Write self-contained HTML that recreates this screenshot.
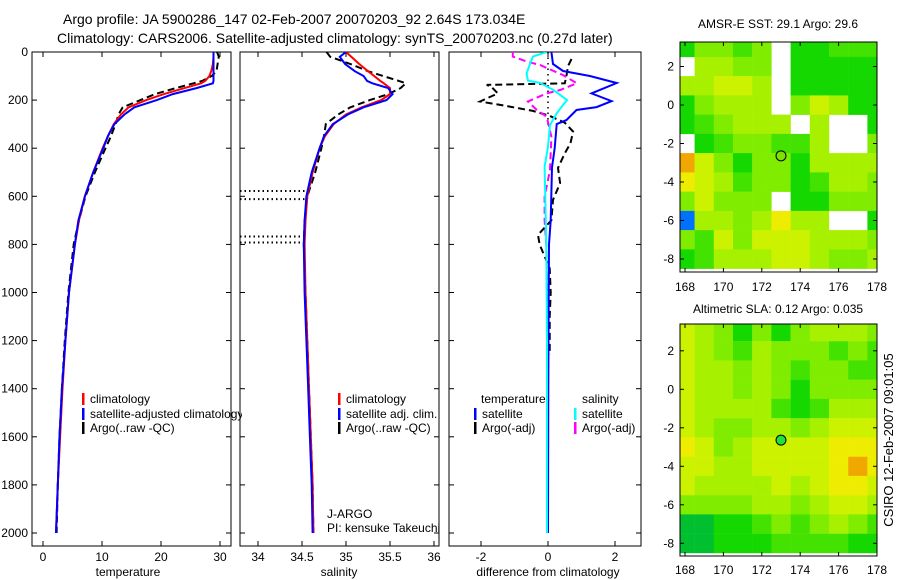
<!DOCTYPE html>
<html><head><meta charset="utf-8">
<style>
body{margin:0;background:#fff;}
svg{display:block;font-family:"Liberation Sans",sans-serif;}
</style></head>
<body>
<svg id="chart" width="900" height="580" viewBox="0 0 900 580">
<rect x="0" y="0" width="900" height="580" fill="#fff"/>
<text x="63" y="24" font-size="14">Argo profile: JA 5900286_147 02-Feb-2007 20070203_92 2.64S 173.034E</text>
<text x="57" y="43" font-size="14">Climatology: CARS2006. Satellite-adjusted climatology: synTS_20070203.nc (0.27d later)</text>
<defs>
<clipPath id="c1"><rect x="32" y="52" width="199" height="494"/></clipPath>
<clipPath id="c2"><rect x="240" y="52" width="199" height="494"/></clipPath>
<clipPath id="c3"><rect x="449" y="52" width="192" height="494"/></clipPath>
<clipPath id="cm1"><rect x="680" y="42" width="197" height="230"/></clipPath>
<clipPath id="cm2"><rect x="680" y="324" width="197" height="232"/></clipPath>
<clipPath id="cleg"><rect x="32" y="380" width="210" height="60"/></clipPath>
</defs>
<g id="g1"></g>
<g id="g2"></g>
<g id="g3"></g>
<g id="gm1"></g>
<g id="gm2"></g>
<text transform="translate(893,440) rotate(-90)" text-anchor="middle" font-size="13">CSIRO 12-Feb-2007 09:01:05</text>
</svg>
<script>
// ---- data ----
const depths = [0,20,50,80,100,120,130,150,175,200,230,260,300,350,400,500,600,700,800,1000,1200,1400,1600,1800,2000];
const tClim = [28.9,28.9,28.8,28.5,28.2,27.5,26.8,24,20.5,17.5,14.5,13.2,12,11,10.1,8.5,7.1,6.1,5.4,4.4,3.8,3.3,2.9,2.5,2.2];
const tSat = [28.9,28.9,28.9,28.9,28.9,28.9,28.8,26,22,19.3,15.5,13.8,12.1,11,10.2,8.5,7.1,6,5.4,4.4,3.8,3.2,2.8,2.5,2.2];
const tArgo = [29.5,29.8,29.6,29.4,28.6,27,25.5,22.5,19,16.5,13.5,12.8,12.3,11.5,10.6,8.8,7.2,6.1,5.2,4.3,3.7,3.2,2.8,2.5,2.3];
const sClim = [35.0,35.06,35.15,35.25,35.32,35.39,35.43,35.5,35.5,35.4,35.18,35.0,34.86,34.76,34.7,34.62,34.56,34.54,34.53,34.54,34.56,34.58,34.6,34.62,34.63];
const sSat = [35.0,34.93,34.99,35.1,35.2,35.24,35.3,35.48,35.53,35.46,35.2,35.02,34.85,34.75,34.7,34.61,34.55,34.53,34.52,34.53,34.55,34.57,34.59,34.61,34.62];
const sArgo = [34.78,34.82,35.05,35.25,35.42,35.6,35.68,35.62,35.48,35.27,35.05,34.91,34.77,34.75,34.72,34.65,34.56,34.53,34.52,34.54,34.56,34.58,34.6,34.62,34.63];
const gapDepths = [578,612,767,792];
const dTSatDepth = [0,50,79,100,129,172,204,229,241,283,300,399,480,700,800,1000,1400,2000];
const dTSat = [0.1,0.15,0.45,1.25,2.05,1.3,1.9,1.45,0.85,0.55,0.26,0.2,0.12,0.08,0.03,0.02,0.01,0];
const dTArgoDepth = [29,58,100,130,137,144,172,206,222,245,266,294,331,380,421,482,545,615,700,760,800,900,1000,1100,1260];
const dTArgo = [0.7,0.6,0.55,0.5,-1.83,-1.7,-1.5,-2.03,-1.34,-0.45,0.06,0.5,0.75,0.67,0.5,0.3,0.36,0.15,0.1,-0.3,-0.25,0.05,0.08,0.05,0.05];
const dSArgoDepth = [0,19,40,54,75,96,130,158,172,206,241,269,352,491,600,700,800,1000,1400,2000];
const dSArgo = [-1.05,-1.05,-0.63,-0.24,0.1,0.45,0.86,0.36,-0.04,-0.6,-0.33,-0.04,0.1,0.06,-0.1,-0.1,-0.05,-0.03,-0.02,-0.02];
const dSSatDepth = [0,19,54,89,119,128,158,200,220,255,304,394,477,800,1200,1600,2000];
const dSSat = [-0.04,-0.45,-0.55,-0.64,-0.6,-0.24,0.16,0.57,0.45,0.26,0.06,0,-0.1,-0.05,-0.03,-0.03,-0.03];
const depthTicks = [0,200,400,600,800,1000,1200,1400,1600,1800,2000];
const tTicks = [0,10,20,30];
const sTicks = [34,34.5,35,35.5,36];
const dTicks = [-2,0,2];
const mapLons = [168,169,170,171,172,173,174,175,176,177,178];
const mapLats = [3,2,1,0,-1,-2,-3,-4,-5,-6,-7,-8];
const lonTicks = [168,170,172,174,176,178];
const latTicks = [2,0,-2,-4,-6,-8];
const sstGrid = [
[3,5,5,4,5,null,3,3,4,4,4],
[null,6,6,5,5,null,3,3,3,3,3],
[6,6,7,7,6,null,3,3,3,3,3],
[3,5,6,6,6,null,5,7,6,3,3],
[3,4,5,6,6,6,null,6,null,null,3],
[null,3,4,5,5,4,4,6,null,null,5],
[9,7,5,3,5,5,3,6,6,6,6],
[8,7,6,4,5,5,3,4,6,6,5],
[5,7,5,5,5,null,3,3,5,5,5],
[-2,6,6,5,6,8,6,6,null,null,3],
[5,4,7,5,7,7,7,6,6,6,5],
[3,4,6,6,6,7,7,6,5,5,6]];
const slaGrid = [
[7,6,5,3,5,3,5,6,6,6,5],
[7,6,5,4,6,5,5,5,4,5,4],
[7,6,6,5,6,5,4,5,5,4,4],
[7,6,6,5,6,5,3,5,5,5,5],
[7,6,6,6,6,4,3,4,6,6,6],
[7,6,5,5,6,6,5,6,7,7,7],
[8,7,5,6,7,7,7,7,8,8,8],
[7,7,6,6,7,7,7,7,8,9,8],
[7,6,6,6,6,7,6,7,8,8,7],
[5,5,5,5,6,6,5,6,7,7,6],
[2,2,3,3,4,5,4,5,6,5,4],
[2,2,3,3,3,4,4,4,4,3,3]];
const argoPos = [173.0,-2.64];

// ---- helpers ----
const NS='http://www.w3.org/2000/svg';
function mk(parent,tag,attrs,txt){const e=document.createElementNS(NS,tag);for(const k in attrs)e.setAttribute(k,attrs[k]);if(txt!==undefined)e.textContent=txt;parent.appendChild(e);return e;}
const yD = d => 52 + d*0.2405;
const xT = v => 43 + v*5.9;
const xS = v => 258 + (v-34)*88;
const xDf = v => 548 + v*33.5;

function line(g,xs,ds,xf,color,dash,clip,name){
  const pts = xs.map((v,i)=>xf(v).toFixed(1)+','+yD(ds[i]).toFixed(1)).join(' ');
  const e = mk(g,'polyline',{points:pts,fill:'none',stroke:color,'stroke-width':2,'clip-path':'url(#'+clip+')'});
  if(dash) e.setAttribute('stroke-dasharray',dash);
  
  
}
function frame(g,x0,x1,ticks,xf,label,labelX,showY){
  const f=mk(g,'rect',{x:x0,y:52,width:x1-x0,height:494,fill:'none',stroke:'#000','stroke-width':1});
  
  
  ticks.forEach(t=>{const x=xf(t);
    mk(g,'line',{x1:x,y1:52,x2:x,y2:57,stroke:'#000'});
    mk(g,'line',{x1:x,y1:546,x2:x,y2:541,stroke:'#000'});
    const tl=mk(g,'text',{x:x,y:561,'font-size':12,'text-anchor':'middle'},String(t));
    
    
  });
  depthTicks.forEach(d=>{const y=yD(d);
    mk(g,'line',{x1:x0,y1:y,x2:x0+5,y2:y,stroke:'#000'});
    mk(g,'line',{x1:x1,y1:y,x2:x1-5,y2:y,stroke:'#000'});
    if(showY){const tl=mk(g,'text',{x:28,y:y+4,'font-size':12,'text-anchor':'end'},String(d));
      
      }
  });
  const al=mk(g,'text',{x:labelX,y:576,'font-size':12,'text-anchor':'middle'},label);
  
  
}
function legend(g,x,y,color,label,clip){
  const b=mk(g,'rect',{x:x,y:y-10,width:2.5,height:12,fill:color});
  
  
  const t=mk(g,'text',{x:x+8,y:y,'font-size':12},label);
  if(clip) t.setAttribute('clip-path','url(#'+clip+')');
  
  
}

// ---- panel 1 ----
const g1=document.getElementById('g1');
frame(g1,32,231,tTicks,xT,'temperature',128,true);
line(g1,tArgo,depths,xT,'#000','7,4','c1','argo-temperature-line');
line(g1,tClim,depths,xT,'#f00',null,'c1','climatology-temperature-line');
line(g1,tSat,depths,xT,'#00f',null,'c1','satellite-temperature-line');
legend(g1,82,403,'#f00','climatology');
legend(g1,82,418,'#00f','satellite-adjusted climatology','cleg');
legend(g1,82,432,'#000','Argo(..raw -QC)');

// ---- panel 2 ----
const g2=document.getElementById('g2');
frame(g2,240,439,sTicks,xS,'salinity',339,false);
gapDepths.forEach(d=>{
  const e=mk(g2,'line',{x1:240,y1:yD(d),x2:305,y2:yD(d),stroke:'#000','stroke-width':2,'stroke-dasharray':'1.5,3'});
  
  
});
line(g2,sArgo,depths,xS,'#000','7,4','c2','argo-salinity-line');
line(g2,sClim,depths,xS,'#f00',null,'c2','climatology-salinity-line');
line(g2,sSat,depths,xS,'#00f',null,'c2','satellite-salinity-line');
legend(g2,338,403,'#f00','climatology');
legend(g2,338,418,'#00f','satellite adj. clim.');
legend(g2,338,432,'#000','Argo(..raw -QC)');
const j1=mk(g2,'text',{x:327,y:518,'font-size':12},'J-ARGO');


const j2=mk(g2,'text',{x:327,y:532,'font-size':12},'PI: kensuke Takeuchi');



// ---- panel 3 ----
const g3=document.getElementById('g3');
frame(g3,449,641,dTicks,xDf,'difference from climatology',548,false);
const zl=mk(g3,'line',{x1:xDf(0),y1:52,x2:xDf(0),y2:yD(320),stroke:'#000','stroke-width':1.5,'stroke-dasharray':'1.5,4'});


line(g3,dTArgo,dTArgoDepth,xDf,'#000','7,4','c3','temperature-argo-diff-line');
line(g3,dSArgo,dSArgoDepth,xDf,'#f0f','7,4','c3','salinity-argo-diff-line');
line(g3,dTSat,dTSatDepth,xDf,'#00f',null,'c3','temperature-satellite-diff-line');
line(g3,dSSat,dSSatDepth,xDf,'#0ff',null,'c3','salinity-satellite-diff-line');
const lt=mk(g3,'text',{x:481,y:403,'font-size':12},'temperature');


const ls=mk(g3,'text',{x:582,y:403,'font-size':12},'salinity');


legend(g3,474,418,'#00f','satellite');
legend(g3,474,432,'#000','Argo(-adj)');
legend(g3,574,418,'#0ff','satellite');
legend(g3,574,432,'#f0f','Argo(-adj)');

// ---- maps ----
const palette={'-2':'#0070ff','-1':'#00d8ff','2':'#00c030','3':'#14d800','4':'#44e200','5':'#80ec00','6':'#a6f000','7':'#ccf200','8':'#eeec00','9':'#f0a800'};
function drawMap(gid,grid,clip,latY0,titleTxt,titleY,xLabY){
  const g=document.getElementById(gid);
  const lonX=l=>685+(l-168)*19.2;
  const latY=l=>latY0-l*19.25;
  grid.forEach((row,r)=>row.forEach((v,c)=>{
    if(v===null) return;
    const x0=lonX(mapLons[c]-0.5), y0=latY(mapLats[r]+0.5);
    const e=mk(g,'rect',{x:x0.toFixed(1),y:y0.toFixed(1),width:19.4,height:19.5,fill:palette[String(v)],'clip-path':'url(#'+clip+')'});
    
    
  }));
  const top = clip==='cm1'?42:324, bot = clip==='cm1'?272:556;
  mk(g,'rect',{x:680,y:top,width:197,height:bot-top,fill:'none',stroke:'#000'});
  lonTicks.forEach(l=>{const x=lonX(l);
    mk(g,'line',{x1:x,y1:top,x2:x,y2:top+4,stroke:'#000'});
    mk(g,'line',{x1:x,y1:bot,x2:x,y2:bot-4,stroke:'#000'});
    const t=mk(g,'text',{x:x,y:xLabY,'font-size':12,'text-anchor':'middle'},String(l));
    
    });
  latTicks.forEach(l=>{const y=latY(l);
    mk(g,'line',{x1:680,y1:y,x2:684,y2:y,stroke:'#000'});
    mk(g,'line',{x1:877,y1:y,x2:873,y2:y,stroke:'#000'});
    const t=mk(g,'text',{x:674,y:y+4,'font-size':12,'text-anchor':'end'},String(l));
    
    });
  const c=mk(g,'circle',{cx:lonX(argoPos[0]),cy:latY(argoPos[1]),r:5,fill:clip==='cm1'?'#7ce000':'#20e040',stroke:'#000','stroke-width':1});
  
  
  const t=mk(g,'text',{x:778,y:titleY,'font-size':12,'text-anchor':'middle'},titleTxt);
  
  
}
drawMap('gm1',sstGrid,'cm1',105,'AMSR-E SST: 29.1 Argo: 29.6',28,291);
drawMap('gm2',slaGrid,'cm2',389.3,'Altimetric SLA: 0.12 Argo: 0.035',313,574);
</script>
</body></html>
